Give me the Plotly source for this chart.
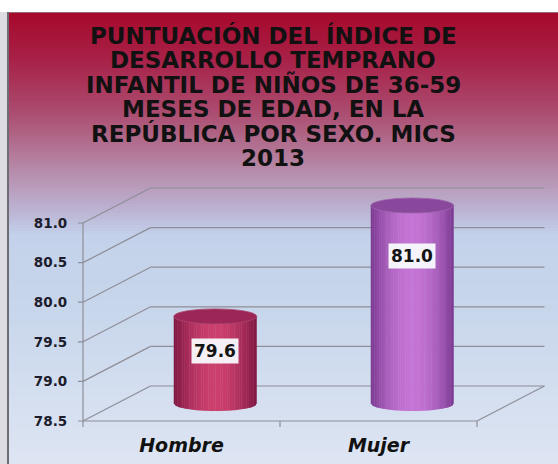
import plotly.graph_objects as go
import numpy as np

# ---------------- data ----------------
CATEGORIES = ["Hombre", "Mujer"]
VALUES = [79.6, 81.0]
Y_TICKS = [78.5, 79.0, 79.5, 80.0, 80.5, 81.0]
TITLE_LINES = [
    "PUNTUACIÓN DEL ÍNDICE DE",
    "DESARROLLO TEMPRANO",
    "INFANTIL DE NIÑOS DE 36-59",
    "MESES DE EDAD, EN LA",
    "REPÚBLICA POR SEXO. MICS",
    "2013",
]

# ---------------- style / geometry ----------------
W, H = 558, 464
PXX = 197.0          # px per category unit
PXY = 79.2           # px per value unit
FX, FY = 83.0, 421.0 # pixel of front corner (x=-0.5, y=78.5)
DX = 67.5 / PXX      # depth offset (category units)
DY = 35.0 / PXY      # depth offset (value units)
YMIN = Y_TICKS[0]
XMIN = -0.5
XMAX = len(CATEGORIES) - 0.5

xr = [XMIN - 0.06, XMAX + DX + 0.03]
yr = [YMIN - 0.09, Y_TICKS[-1] + DY + 0.03]
xdom = [(FX + (xr[0] - XMIN) * PXX) / W, (FX + (xr[1] - XMIN) * PXX) / W]
ydom = [1 - (FY + (YMIN - yr[0]) * PXY) / H, 1 - (FY - (yr[1] - YMIN) * PXY) / H]

GRID = "#8e8e98"
BAR_EDGE = ["#7c1440", "#7a3890"]
BAR_CENTER = ["#cc3f6d", "#c474d4"]
BAR_TOP = ["#9c2656", "#8a489c"]
LABEL_SHIFT = [-35, -50]
R = 41.5 / PXX
RY = 7.5 / PXY


def hex2rgb(h):
    h = h.lstrip("#")
    return np.array([int(h[i:i + 2], 16) for i in (0, 2, 4)], float)


def mix(c1, c2, t):
    a, b = hex2rgb(c1), hex2rgb(c2)
    c = a + (b - a) * t
    return "rgb(%d,%d,%d)" % tuple(np.clip(c, 0, 255).round())


shapes = []

# background gradient (paper coords = whole figure)
stops = [(12, "#a6082b"), (60, "#a82148"), (110, "#ab4a6e"), (150, "#b27594"),
         (185, "#b99ab9"), (210, "#bcb2d2"), (235, "#c3d1ea"), (320, "#c9d7ec"),
         (464, "#dee5f3")]
ys = np.arange(12, 464, 3)
for y0 in ys:
    y1 = min(y0 + 3, 464)
    ym = (y0 + y1) / 2
    for (a, ca), (b, cb) in zip(stops[:-1], stops[1:]):
        if a <= ym <= b:
            col = mix(ca, cb, (ym - a) / (b - a))
            break
    shapes.append(dict(type="rect", xref="paper", yref="paper", layer="below",
                       x0=9 / W, x1=1, y0=1 - (y1 + 0.6) / H, y1=1 - y0 / H,
                       fillcolor=col, line=dict(width=0)))
# left frame strip
shapes.append(dict(type="rect", xref="paper", yref="paper", layer="below",
                   x0=0, x1=7 / W, y0=0, y1=1 - 12 / H,
                   fillcolor="#dcdce2", line=dict(width=0)))
shapes.append(dict(type="line", xref="paper", yref="paper", layer="below",
                   x0=8 / W, x1=8 / W, y0=0, y1=1 - 12 / H,
                   line=dict(color="#6c6c74", width=2)))
shapes.append(dict(type="line", xref="paper", yref="paper", layer="below",
                   x0=9 / W, x1=1, y0=1 - 12.5 / H, y1=1 - 12.5 / H,
                   line=dict(color="#9a6a76", width=1)))

# back wall grid + side wall diagonals
for v in Y_TICKS:
    shapes.append(dict(type="line", x0=XMIN + DX, x1=XMAX + DX, y0=v + DY, y1=v + DY,
                       line=dict(color=GRID, width=1.2)))
    shapes.append(dict(type="line", x0=XMIN, x1=XMIN + DX, y0=v, y1=v + DY,
                       line=dict(color=GRID, width=1.2)))
    # y tick marks
    shapes.append(dict(type="line", x0=XMIN - 5 / PXX, x1=XMIN, y0=v, y1=v,
                       line=dict(color=GRID, width=1.2)))
# front vertical axis
shapes.append(dict(type="line", x0=XMIN, x1=XMIN, y0=YMIN, y1=Y_TICKS[-1],
                   line=dict(color=GRID, width=1.2)))
# floor front edge and right edge
shapes.append(dict(type="line", x0=XMIN, x1=XMAX, y0=YMIN, y1=YMIN,
                   line=dict(color=GRID, width=1.2)))
shapes.append(dict(type="line", x0=XMAX, x1=XMAX + DX, y0=YMIN, y1=YMIN + DY,
                   line=dict(color=GRID, width=1.2)))
# x tick marks at category boundaries
for k in range(len(CATEGORIES) + 1):
    xb = XMIN + k
    shapes.append(dict(type="line", x0=xb, x1=xb, y0=YMIN, y1=YMIN - 6 / PXY,
                       line=dict(color=GRID, width=1.2)))

# cylinders
N = 48
for i, v in enumerate(VALUES):
    cx = i + DX / 2
    base = YMIN + DY / 2
    top = v + DY / 2
    for j in range(N):
        u0 = -1 + 2 * j / N
        u1 = u0 + 2 / N
        um = (u0 + u1) / 2
        w = np.cos(um * np.pi / 2) ** 0.9
        col = mix(BAR_EDGE[i], BAR_CENTER[i], w)
        xa, xb = cx + u0 * R, cx + min(u1 + 0.01, 1) * R
        ya = base - RY * np.sqrt(max(0, 1 - u0 ** 2))
        yb = base - RY * np.sqrt(max(0, 1 - min(u1, 1) ** 2))
        path = "M %f,%f L %f,%f L %f,%f L %f,%f Z" % (xa, top, xb, top, xb, yb, xa, ya)
        shapes.append(dict(type="path", path=path, fillcolor=col, line=dict(width=0)))
    shapes.append(dict(type="circle", x0=cx - R, x1=cx + R, y0=top - RY, y1=top + RY,
                       fillcolor=BAR_TOP[i], line=dict(color=mix(BAR_TOP[i], "#ffffff", 0.15), width=0.8)))

annotations = []
for i, v in enumerate(VALUES):
    annotations.append(dict(x=i + DX / 2, y=v + DY / 2, yshift=LABEL_SHIFT[i],
                            text="<b>%.1f</b>" % v, showarrow=False,
                            bgcolor="rgba(248,250,253,0.95)", borderpad=2,
                            font=dict(family="DejaVu Sans", size=17, color="#141414")))
for k, line in enumerate(TITLE_LINES):
    annotations.append(dict(xref="paper", yref="paper", x=273 / W, y=1 - (35 + 24.6 * k) / H,
                            xanchor="center", yanchor="middle", showarrow=False,
                            text="<b>%s</b>" % line,
                            font=dict(family="DejaVu Sans", size=23, color="#111111")))

fig = go.Figure()
fig.add_trace(go.Scatter(x=[i + DX / 2 for i in range(len(VALUES))],
                         y=[v + DY / 2 for v in VALUES], mode="markers",
                         marker=dict(opacity=0), hoverinfo="skip", showlegend=False))

fig.update_layout(
    width=W, height=H, template="none",
    margin=dict(l=0, r=0, t=0, b=0),
    paper_bgcolor="white", plot_bgcolor="rgba(0,0,0,0)",
    shapes=shapes, annotations=annotations, showlegend=False,
    xaxis=dict(domain=xdom, range=xr, showgrid=False, zeroline=False, showline=False,
               tickvals=list(range(len(CATEGORIES))), ticktext=CATEGORIES,
               ticks="", ticklabelstandoff=4, automargin=False,
               tickfont=dict(family="DejaVu Sans", size=19, color="#111111",
                             weight="bold", style="italic")),
    yaxis=dict(domain=ydom, range=yr, showgrid=False, zeroline=False, showline=False,
               tickvals=Y_TICKS, ticktext=["%.1f" % t for t in Y_TICKS],
               ticks="", ticklabelstandoff=3, automargin=False,
               tickfont=dict(family="DejaVu Sans", size=13.5, color="#1c1c2c", weight="bold")),
)

fig.write_html("out.html", config={"displayModeBar": False},
               post_script="document.body.style.margin='0';document.body.style.overflow='hidden';")
